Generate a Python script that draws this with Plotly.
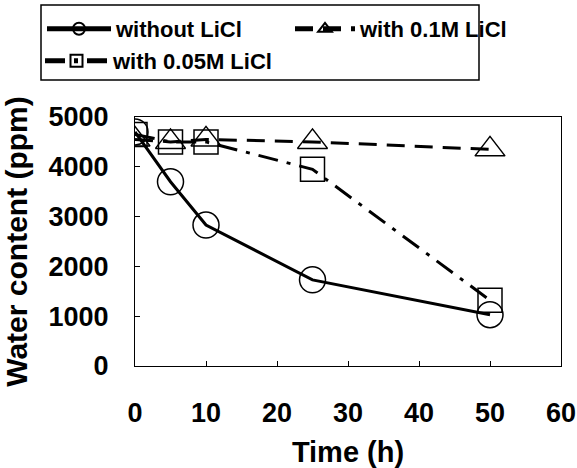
import plotly.graph_objects as go

time_h = [0, 5, 10, 25, 50]
without_licl = [4700, 3700, 2830, 1730, 1030]
with_01m = [4550, 4500, 4550, 4500, 4350]
with_005m = [4650, 4500, 4500, 3950, 1320]

x_ticks = [0, 10, 20, 30, 40, 50, 60]
y_ticks = [0, 1000, 2000, 3000, 4000, 5000]

font_family = "Liberation Sans, Arial, sans-serif"
W, H = 577, 468
L, R, T, B = 135, 16, 117, 102
PW, PH = W - L - R, H - T - B


def px_to_paper_x(px):
    return (px - L) / PW


def px_to_paper_y(py):
    return (H - B - py) / PH


fig = go.Figure()
fig.add_trace(go.Scatter(
    x=time_h, y=without_licl, name="<b>without LiCl</b>", mode="lines+markers",
    line=dict(color="black", width=3, dash="solid"),
    marker=dict(symbol="circle-open", size=26, color="black", line=dict(width=1.5, color="black")),
    legend="legend", showlegend=True,
))
fig.add_trace(go.Scatter(
    x=time_h, y=with_01m, name="<b>with 0.1M LiCl</b>", mode="lines+markers",
    line=dict(color="black", width=3, dash="18px,10px"),
    marker=dict(symbol="triangle-up-open", size=26, color="black", line=dict(width=1.5, color="black")),
    legend="legend2", showlegend=True,
))
fig.add_trace(go.Scatter(
    x=time_h, y=with_005m, name="<b>with 0.05M LiCl</b>", mode="lines+markers",
    line=dict(color="black", width=3, dash="20px,9px,4px,9px"),
    marker=dict(symbol="square-open", size=24, color="black", line=dict(width=1.5, color="black")),
    legend="legend3", showlegend=True,
))

axis_common = dict(
    showgrid=False, zeroline=False, showline=True, linecolor="black", linewidth=1.2,
    mirror=True, ticks="inside", ticklen=5, tickcolor="black", tickwidth=1,
    tickfont=dict(family=font_family, size=27, color="black"), automargin=False,
)

fig.update_xaxes(
    range=[0, 60], tickvals=x_ticks, ticktext=[f"<b>{v}</b>" for v in x_ticks],
    ticklabelstandoff=22,
    title=dict(text="<b>Time (h)</b>", font=dict(family=font_family, size=29, color="black"), standoff=16),
    **axis_common,
)
fig.update_yaxes(
    range=[0, 5000], tickvals=y_ticks, ticktext=[f"<b>{v}</b>" for v in y_ticks],
    ticklabelstandoff=20,
    title=dict(text="<b>Water content (ppm)</b>", font=dict(family=font_family, size=30, color="black"), standoff=12),
    **axis_common,
)

legend_common = dict(
    orientation="h", xref="container", yref="container",
    xanchor="left", yanchor="top",
    borderwidth=0, bgcolor="rgba(0,0,0,0)",
    font=dict(family=font_family, size=22, color="black"),
    itemsizing="constant",
)

fig.update_layout(
    width=W, height=H,
    showlegend=True,
    margin=dict(l=L, r=R, t=T, b=B, autoexpand=False),
    paper_bgcolor="white", plot_bgcolor="white",
    font=dict(family=font_family, color="black"),
    legend=dict(x=42 / W, y=1 - 8 / H, itemwidth=64, **legend_common),
    legend2=dict(x=290 / W, y=1 - 8 / H, itemwidth=60, **legend_common),
    legend3=dict(x=40 / W, y=1 - 40 / H, itemwidth=63, **legend_common),
    shapes=[dict(
        type="rect", xref="paper", yref="paper",
        x0=px_to_paper_x(41), x1=px_to_paper_x(479),
        y0=px_to_paper_y(80), y1=px_to_paper_y(5),
        line=dict(color="black", width=1.5), fillcolor="rgba(0,0,0,0)", layer="below",
    )],
)

fig.write_html("out.html")
